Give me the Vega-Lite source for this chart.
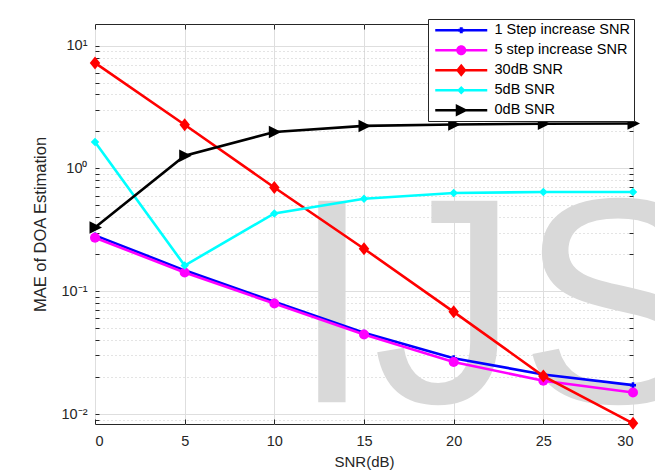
{
  "$schema": "https://vega.github.io/schema/vega-lite/v6.json",
  "width": 538,
  "height": 400,
  "autosize": {"type": "none"},
  "padding": {"left": 95, "top": 24, "right": 22, "bottom": 50},
  "background": "white",
  "config": {"font": "Liberation Sans", "view": {"stroke": "#262626", "strokeWidth": 1}},
  "data": {
    "values": [
      {"snr": 0, "mae": 0.285, "series": "1 Step increase SNR"},
      {"snr": 5, "mae": 0.148, "series": "1 Step increase SNR"},
      {"snr": 10, "mae": 0.082, "series": "1 Step increase SNR"},
      {"snr": 15, "mae": 0.046, "series": "1 Step increase SNR"},
      {"snr": 20, "mae": 0.0285, "series": "1 Step increase SNR"},
      {"snr": 25, "mae": 0.021, "series": "1 Step increase SNR"},
      {"snr": 30, "mae": 0.0172, "series": "1 Step increase SNR"},
      {"snr": 0, "mae": 0.273, "series": "5 step increase SNR"},
      {"snr": 5, "mae": 0.142, "series": "5 step increase SNR"},
      {"snr": 10, "mae": 0.0794, "series": "5 step increase SNR"},
      {"snr": 15, "mae": 0.0445, "series": "5 step increase SNR"},
      {"snr": 20, "mae": 0.0265, "series": "5 step increase SNR"},
      {"snr": 25, "mae": 0.0187, "series": "5 step increase SNR"},
      {"snr": 30, "mae": 0.015, "series": "5 step increase SNR"},
      {"snr": 0, "mae": 7.23, "series": "30dB SNR"},
      {"snr": 5, "mae": 2.27, "series": "30dB SNR"},
      {"snr": 10, "mae": 0.70, "series": "30dB SNR"},
      {"snr": 15, "mae": 0.222, "series": "30dB SNR"},
      {"snr": 20, "mae": 0.068, "series": "30dB SNR"},
      {"snr": 25, "mae": 0.0204, "series": "30dB SNR"},
      {"snr": 30, "mae": 0.0084, "series": "30dB SNR"},
      {"snr": 0, "mae": 1.64, "series": "5dB SNR"},
      {"snr": 5, "mae": 0.162, "series": "5dB SNR"},
      {"snr": 10, "mae": 0.43, "series": "5dB SNR"},
      {"snr": 15, "mae": 0.567, "series": "5dB SNR"},
      {"snr": 20, "mae": 0.631, "series": "5dB SNR"},
      {"snr": 25, "mae": 0.643, "series": "5dB SNR"},
      {"snr": 30, "mae": 0.643, "series": "5dB SNR"},
      {"snr": 0, "mae": 0.331, "series": "0dB SNR"},
      {"snr": 5, "mae": 1.27, "series": "0dB SNR"},
      {"snr": 10, "mae": 1.98, "series": "0dB SNR"},
      {"snr": 15, "mae": 2.22, "series": "0dB SNR"},
      {"snr": 20, "mae": 2.28, "series": "0dB SNR"},
      {"snr": 25, "mae": 2.31, "series": "0dB SNR"},
      {"snr": 30, "mae": 2.32, "series": "0dB SNR"}
    ]
  },
  "layer": [
    {
      "data": {"values": [{"label": "IJS"}]},
      "mark": {"type": "text", "font": "Liberation Sans", "fontSize": 293, "color": "#d9d9d9", "align": "left", "baseline": "alphabetic"},
      "encoding": {
        "x": {"datum": 10.94, "type": "quantitative", "scale": {"domain": [0, 30], "nice": false, "zero": false},
          "axis": {"values": [0, 5, 10, 15, 20, 25, 30], "grid": true, "gridColor": "#dedede", "domain": false, "tickColor": "#262626", "tickSize": -5, "labelFontSize": 14.5, "labelColor": "#262626", "labelPadding": 15, "title": "SNR(dB)", "titleFontSize": 15, "titleFontWeight": "normal", "titleColor": "#262626", "titlePadding": 7}},
        "y": {"datum": 0.01245, "type": "quantitative", "scale": {"type": "log", "domain": [0.0083, 15], "nice": false},
          "axis": {"values": [0.009, 0.01, 0.02, 0.03, 0.04, 0.05, 0.06, 0.07, 0.08, 0.09, 0.1, 0.2, 0.3, 0.4, 0.5, 0.6, 0.7, 0.8, 0.9, 1, 2, 3, 4, 5, 6, 7, 8, 9, 10],
            "labelExpr": "abs(datum.value - 10) < 1e-9 ? '10¹' : abs(datum.value - 1) < 1e-9 ? '10⁰' : abs(datum.value - 0.1) < 1e-9 ? '10⁻¹' : abs(datum.value - 0.01) < 1e-9 ? '10⁻²' : ''",
            "grid": true,
            "gridColor": {"condition": {"test": "abs(log(datum.value)/LN10 - round(log(datum.value)/LN10)) < 1e-6", "value": "#dedede"}, "value": "#c8c8c8"},
            "gridDash": {"condition": {"test": "abs(log(datum.value)/LN10 - round(log(datum.value)/LN10)) < 1e-6", "value": []}, "value": [1, 3]},
            "tickSize": -4, "tickColor": "#262626", "domain": false,
            "labelFontSize": 14.5, "labelColor": "#262626", "labelPadding": 12,
            "title": "MAE of DOA Estimation", "titleFontSize": 16.5, "titleFontWeight": "normal", "titleColor": "#262626", "titlePadding": 13}},
        "text": {"field": "label"}
      }
    },
    {
      "transform": [{"filter": "datum.series === '1 Step increase SNR'"}],
      "mark": {"type": "line", "strokeWidth": 2.6, "point": {"filled": true, "size": 100, "shape": "M-0.6,-0.25H0.6V0.25H-0.6Z M-0.25,-0.6H0.25V0.6H-0.25Z"}},
      "encoding": {
        "x": {"field": "snr", "type": "quantitative",
          "axis": {"orient": "top", "title": null, "labels": false, "grid": false, "domain": false, "values": [0, 5, 10, 15, 20, 25, 30], "tickSize": -5, "tickColor": "#262626"}},
        "y": {"field": "mae", "type": "quantitative",
          "axis": {"orient": "right", "title": null, "labels": false, "grid": false, "domain": false, "values": [0.009, 0.01, 0.02, 0.03, 0.04, 0.05, 0.06, 0.07, 0.08, 0.09, 0.1, 0.2, 0.3, 0.4, 0.5, 0.6, 0.7, 0.8, 0.9, 1, 2, 3, 4, 5, 6, 7, 8, 9, 10], "tickSize": -4, "tickColor": "#262626"}},
        "color": {"field": "series", "type": "nominal",
          "scale": {"domain": ["1 Step increase SNR", "5 step increase SNR", "30dB SNR", "5dB SNR", "0dB SNR"], "range": ["#0000ff", "#ff00ff", "#ff0000", "#00ffff", "#000000"]},
          "legend": {"title": null, "orient": "none", "legendX": 333, "legendY": -5, "fillColor": "white", "strokeColor": "#262626", "padding": 4,
            "labelFontSize": 14.5, "labelColor": "#000000", "labelFont": "Liberation Sans", "symbolOffset": 22, "labelOffset": 26, "rowPadding": 5, "symbolSize": 100,
            "encode": {"symbols": {"update": {
              "shape": {"signal": "datum.value === '1 Step increase SNR' ? 'M-5.2,-0.25H5.2V0.25H-5.2Z M-0.6,-0.3H0.6V0.3H-0.6Z M-0.3,-0.6H0.3V0.6H-0.3Z' : datum.value === '5 step increase SNR' ? 'M-5.2,-0.25H5.2V0.25H-5.2Z M-1,0A1,1,0,1,1,1,0A1,1,0,1,1,-1,0Z' : datum.value === '30dB SNR' ? 'M-5.2,-0.25H5.2V0.25H-5.2Z M0,-1.3L1.05,0L0,1.3L-1.05,0Z' : datum.value === '5dB SNR' ? 'M-5.2,-0.25H5.2V0.25H-5.2Z M0,-0.85L0.85,0L0,0.85L-0.85,0Z' : 'M-5.2,-0.25H5.2V0.25H-5.2Z M-1.1,-1.25L1.4,0L-1.1,1.25Z'"},
              "fill": {"signal": "scale('color', datum.value)"},
              "fillOpacity": {"value": 1},
              "stroke": {"value": "transparent"},
              "strokeWidth": {"value": 0},
              "opacity": {"value": 1},
              "size": {"value": 100}
            }}}}
        }
      }
    },
    {
      "transform": [{"filter": "datum.series === '5 step increase SNR'"}],
      "mark": {"type": "line", "strokeWidth": 2.6, "point": {"filled": true, "size": 100, "shape": "circle"}},
      "encoding": {
        "x": {"field": "snr", "type": "quantitative", "axis": null},
        "y": {"field": "mae", "type": "quantitative", "axis": null},
        "color": {"field": "series", "type": "nominal"}
      }
    },
    {
      "transform": [{"filter": "datum.series === '30dB SNR'"}],
      "mark": {"type": "line", "strokeWidth": 2.6, "point": {"filled": true, "size": 100, "shape": "M0,-1.3L1.05,0L0,1.3L-1.05,0Z"}},
      "encoding": {
        "x": {"field": "snr", "type": "quantitative", "axis": null},
        "y": {"field": "mae", "type": "quantitative", "axis": null},
        "color": {"field": "series", "type": "nominal"}
      }
    },
    {
      "transform": [{"filter": "datum.series === '5dB SNR'"}],
      "mark": {"type": "line", "strokeWidth": 2.6, "point": {"filled": true, "size": 100, "shape": "M0,-0.85L0.85,0L0,0.85L-0.85,0Z"}},
      "encoding": {
        "x": {"field": "snr", "type": "quantitative", "axis": null},
        "y": {"field": "mae", "type": "quantitative", "axis": null},
        "color": {"field": "series", "type": "nominal"}
      }
    },
    {
      "transform": [{"filter": "datum.series === '0dB SNR'"}],
      "mark": {"type": "line", "strokeWidth": 2.6, "point": {"filled": true, "size": 100, "shape": "M-1.1,-1.25L1.4,0L-1.1,1.25Z"}},
      "encoding": {
        "x": {"field": "snr", "type": "quantitative", "axis": null},
        "y": {"field": "mae", "type": "quantitative", "axis": null},
        "color": {"field": "series", "type": "nominal"}
      }
    }
  ],
  "resolve": {"axis": {"x": "independent", "y": "independent"}}
}
